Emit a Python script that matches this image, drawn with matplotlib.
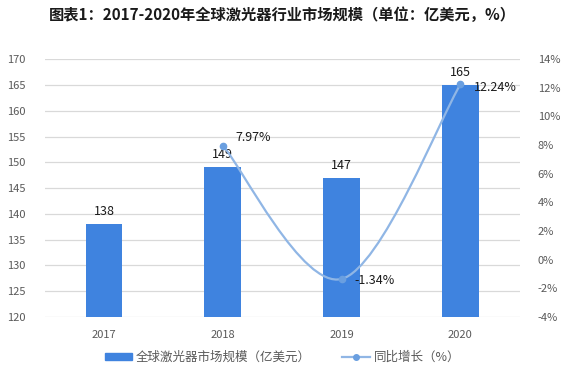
import matplotlib.pyplot as plt
from matplotlib.path import Path
from matplotlib.patches import PathPatch, Patch
from matplotlib.lines import Line2D
import numpy as np

plt.rcParams['font.family'] = ['Noto Sans CJK SC', 'DejaVu Sans']

# Data
years = ['2017', '2018', '2019', '2020']
market_size = [138, 149, 147, 165]          # 亿美元
growth_years = [1, 2, 3]                    # index of 2018..2020
growth = [7.97, -1.34, 12.24]               # %

bar_color = '#3F83DF'
line_color = '#90B6E5'
marker_color = '#6A9FE0'
tick_color = '#595959'

fig = plt.figure(figsize=(5.65, 3.77), dpi=100)
ax = fig.add_axes([0.079, 0.159, 0.841, 0.684])
x = np.arange(len(years))
ax.bar(x, market_size, width=0.31, color=bar_color, zorder=2)
ax.set_ylim(120, 170)
ax.set_yticks(range(120, 171, 5))
ax.set_xlim(-0.5, 3.5)
ax.set_xticks(x)
ax.set_xticklabels(years)
ax.grid(axis='y', color='#D9D9D9', linewidth=0.9, zorder=0)
ax.set_axisbelow(True)
for s in ax.spines.values():
    s.set_visible(False)
ax.tick_params(length=0, colors=tick_color, labelsize=8)
ax.tick_params(axis='y', pad=14)
ax.tick_params(axis='x', pad=9)

for xi, v in zip(x, market_size):
    ax.text(xi, v + 1.2, str(v), ha='center', va='bottom', fontsize=9, color='#1a1a1a')

ax2 = ax.twinx()
ax2.set_ylim(-4, 14)
ax2.set_yticks(range(-4, 15, 2))
ax2.set_yticklabels([f'{t}%' for t in range(-4, 15, 2)])
for s in ax2.spines.values():
    s.set_visible(False)
ax2.tick_params(length=0, colors=tick_color, labelsize=8, pad=13)

# smoothed line (Catmull-Rom style, like Excel's smooth line)
pts = np.column_stack([growth_years, growth]).astype(float)
verts = [pts[0]]
codes = [Path.MOVETO]
n = len(pts)
for i in range(n - 1):
    p0 = pts[i - 1] if i > 0 else pts[i]
    p1 = pts[i]
    p2 = pts[i + 1]
    p3 = pts[i + 2] if i + 2 < n else pts[i + 1]
    c1 = p1 + (p2 - p0) / 6
    c2 = p2 - (p3 - p1) / 6
    verts += [c1, c2, p2]
    codes += [Path.CURVE4] * 3
ax2.add_patch(PathPatch(Path(verts, codes), facecolor='none', edgecolor=line_color, lw=1.6, zorder=3))
ax2.plot(growth_years, growth, linestyle='none', marker='o', ms=4.5,
         color=marker_color, zorder=4)

offsets = [(0.11, 0.55), (0.11, -0.1), (0.11, -0.2)]
for gx, g, (dx, dy) in zip(growth_years, growth, offsets):
    ax2.text(gx + dx, g + dy, f'{g:.2f}%', ha='left', va='center', fontsize=9, color='#1a1a1a')

fig.text(0.5, 0.96, '图表1：2017-2020年全球激光器行业市场规模（单位：亿美元，%）',
         ha='center', va='center', fontsize=11, fontweight='bold', color='#1a1a1a')

handles = [Patch(color=bar_color),
           Line2D([], [], color=line_color, lw=1.6, marker='o', ms=4, markerfacecolor=marker_color,
                  markeredgecolor=marker_color)]
labels = ['全球激光器市场规模（亿美元）', '同比增长（%）']
leg = fig.legend(handles, labels, loc='center', bbox_to_anchor=(0.5, 0.053), ncol=2,
                 frameon=False, fontsize=9, handlelength=2.2, handleheight=0.5,
                 columnspacing=2.5, handletextpad=0.3)
for t in leg.get_texts():
    t.set_color(tick_color)

fig.savefig('out.png', dpi=100)
